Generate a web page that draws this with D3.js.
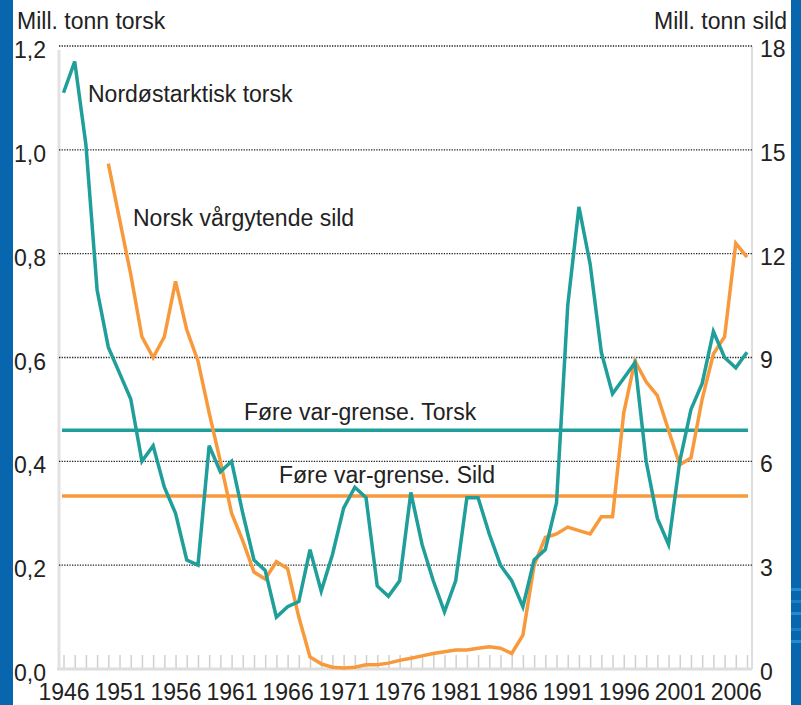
<!DOCTYPE html>
<html>
<head>
<meta charset="utf-8">
<script src="https://cdn.jsdelivr.net/npm/d3@7"></script>
<style>
  body { margin: 0; background: #fff; }
  svg { display: block; font-family: "Liberation Sans", Arial, sans-serif; }
</style>
</head>
<body>
<div class="main"></div>
<script>
let years = [1946, 1947, 1948, 1949, 1950, 1951, 1952, 1953, 1954, 1955,
  1956, 1957, 1958, 1959, 1960, 1961, 1962, 1963, 1964, 1965,
  1966, 1967, 1968, 1969, 1970, 1971, 1972, 1973, 1974, 1975,
  1976, 1977, 1978, 1979, 1980, 1981, 1982, 1983, 1984, 1985,
  1986, 1987, 1988, 1989, 1990, 1991, 1992, 1993, 1994, 1995,
  1996, 1997, 1998, 1999, 2000, 2001, 2002, 2003, 2004, 2005,
  2006, 2007]

// mill. tonn, venstre akse
let torsk = [1.11, 1.17, 1.01, 0.73, 0.62, 0.57, 0.52, 0.40, 0.43, 0.35,
  0.30, 0.21, 0.20, 0.43, 0.38, 0.40, 0.30, 0.21, 0.19, 0.10,
  0.12, 0.13, 0.23, 0.15, 0.22, 0.31, 0.35, 0.33, 0.16, 0.14,
  0.17, 0.34, 0.24, 0.17, 0.11, 0.17, 0.33, 0.33, 0.26, 0.20,
  0.17, 0.12, 0.21, 0.23, 0.32, 0.70, 0.89, 0.78, 0.61, 0.53,
  0.56, 0.59, 0.40, 0.29, 0.24, 0.40, 0.50, 0.55, 0.65, 0.60,
  0.58, 0.61]

// mill. tonn, høyre akse (ingen data før 1950)
let sild = [null, null, null, null, 14.6, 13.0, 11.4, 9.6, 9.0, 9.6,
  11.2, 9.8, 8.9, 7.4, 6.0, 4.5, 3.7, 2.8, 2.6, 3.1,
  2.9, 1.5, 0.35, 0.15, 0.05, 0.03, 0.05, 0.12, 0.12, 0.17,
  0.25, 0.31, 0.38, 0.45, 0.5, 0.55, 0.55, 0.6, 0.64, 0.6,
  0.45, 0.98, 3.0, 3.8, 3.9, 4.1, 4.0, 3.9, 4.4, 4.4,
  7.4, 8.9, 8.3, 7.9, 6.9, 5.9, 6.1, 7.8, 9.1, 9.6,
  12.3, 11.9]

let torskGrense = 0.46
let sildGrense = 5.0

let leftTicks = [0, 0.2, 0.4, 0.6, 0.8, 1.0, 1.2]
let rightTicks = [0, 3, 6, 9, 12, 15, 18]
let yearLabels = [1946, 1951, 1956, 1961, 1966, 1971, 1976, 1981, 1986, 1991, 1996, 2001, 2006]

let W = 801, H = 705
let plot = {left: 59, right: 752, top: 46, bottom: 669}
let teal = '#1f9e9a', orange = '#f8993b', ink = '#222'

let svg = d3.select('.main').append('svg').attr('width', W).attr('height', H)

// blå ramme
svg.append('rect').attr('x', 0).attr('y', 0).attr('width', 13).attr('height', H).attr('fill', '#0766ae')
svg.append('rect').attr('x', 791).attr('y', 0).attr('width', 10).attr('height', H).attr('fill', '#0766ae')
;[588, 600, 612, 628, 640].forEach((y, i) => {
  svg.append('rect').attr('x', 791).attr('y', y).attr('width', 10).attr('height', 3)
    .attr('fill', i % 2 ? '#1a86d6' : '#2b93e0').attr('opacity', 0.8)
})

let x = d3.scaleLinear().domain([1946, 2007]).range([63.5, 747])
let yL = d3.scaleLinear().domain([0, 1.2]).range([plot.bottom, plot.top])
let yR = d3.scaleLinear().domain([0, 18]).range([plot.bottom, plot.top])

// akselinjer
svg.append('line').attr('x1', plot.left).attr('x2', plot.left).attr('y1', 50).attr('y2', plot.bottom)
  .attr('stroke', '#e2e2e2').attr('stroke-width', 3)
svg.append('line').attr('x1', plot.right).attr('x2', plot.right).attr('y1', plot.top).attr('y2', plot.bottom)
  .attr('stroke', '#c8c8c8').attr('stroke-width', 1.2)

// stiplede hjelpelinjer
svg.append('g').selectAll('line').data(leftTicks.filter(d => d > 0)).enter().append('line')
  .attr('x1', plot.left).attr('x2', plot.right)
  .attr('y1', d => yL(d)).attr('y2', d => yL(d))
  .attr('stroke', '#222').attr('stroke-width', 1.3).attr('stroke-dasharray', '1.3,1.3')

// x-akse
let xAxis = d3.axisBottom(x).tickValues(years).tickSizeInner(-14).tickSizeOuter(0)
  .tickFormat(d => yearLabels.includes(d) ? d : '')
let gx = svg.append('g').attr('transform', `translate(0, ${plot.bottom})`).call(xAxis)
gx.select('.domain').remove()
gx.selectAll('.tick line').attr('stroke', '#d0d0d0').attr('stroke-width', 1.5)
gx.selectAll('.tick text').attr('y', 31).attr('dy', 0).attr('fill', ink)
  .style('font-size', '23px').style('font-family', '"Liberation Sans", Arial, sans-serif')
svg.append('line').attr('x1', plot.left - 2).attr('x2', plot.right).attr('y1', plot.bottom).attr('y2', plot.bottom)
  .attr('stroke', '#dedede').attr('stroke-width', 3)

// venstre akse
let yAxisL = d3.axisLeft(yL).tickValues(leftTicks).tickSize(0)
  .tickFormat(d => d3.format('.1f')(d).replace('.', ','))
let gl = svg.append('g').attr('transform', `translate(46, 0)`).call(yAxisL)
gl.select('.domain').remove()
gl.selectAll('.tick text').attr('x', 0).attr('dy', '0.5em').attr('fill', ink)
  .style('font-size', '23px').style('font-family', '"Liberation Sans", Arial, sans-serif')

// høyre akse
let yAxisR = d3.axisRight(yR).tickValues(rightTicks).tickSize(0)
let gr = svg.append('g').attr('transform', `translate(760, 0)`).call(yAxisR)
gr.select('.domain').remove()
gr.selectAll('.tick text').attr('x', 0).attr('dy', '0.45em').attr('fill', ink)
  .style('font-size', '23px').style('font-family', '"Liberation Sans", Arial, sans-serif')

// føre var-grenser
svg.append('line').attr('x1', plot.left + 3).attr('x2', 748)
  .attr('y1', yL(torskGrense)).attr('y2', yL(torskGrense))
  .attr('stroke', teal).attr('stroke-width', 3.5)
svg.append('line').attr('x1', plot.left + 3).attr('x2', 748)
  .attr('y1', yR(sildGrense)).attr('y2', yR(sildGrense))
  .attr('stroke', orange).attr('stroke-width', 3.5)

// serier
let torskLine = d3.line().x((d, i) => x(years[i])).y(d => yL(d))
let sildLine = d3.line().defined(d => d !== null).x((d, i) => x(years[i])).y(d => yR(d))

svg.append('path').datum(sild).attr('d', sildLine)
  .attr('fill', 'none').attr('stroke', orange).attr('stroke-width', 3.5).attr('stroke-linejoin', 'miter')
svg.append('path').datum(torsk).attr('d', torskLine)
  .attr('fill', 'none').attr('stroke', teal).attr('stroke-width', 3.5).attr('stroke-linejoin', 'miter')

// tekster
let texts = [
  {t: 'Mill. tonn torsk', x: 17, y: 29, a: 'start'},
  {t: 'Mill. tonn sild', x: 787, y: 29, a: 'end'},
  {t: 'Nordøstarktisk torsk', x: 88, y: 102, a: 'start'},
  {t: 'Norsk vårgytende sild', x: 133, y: 226, a: 'start'},
  {t: 'Føre var-grense. Torsk', x: 244, y: 420, a: 'start'},
  {t: 'Føre var-grense. Sild', x: 279, y: 483, a: 'start'}
]
svg.append('g').selectAll('text').data(texts).enter().append('text')
  .attr('x', d => d.x).attr('y', d => d.y).attr('text-anchor', d => d.a)
  .attr('fill', ink).style('font-size', '23px')
  .text(d => d.t)
</script>
</body>
</html>
